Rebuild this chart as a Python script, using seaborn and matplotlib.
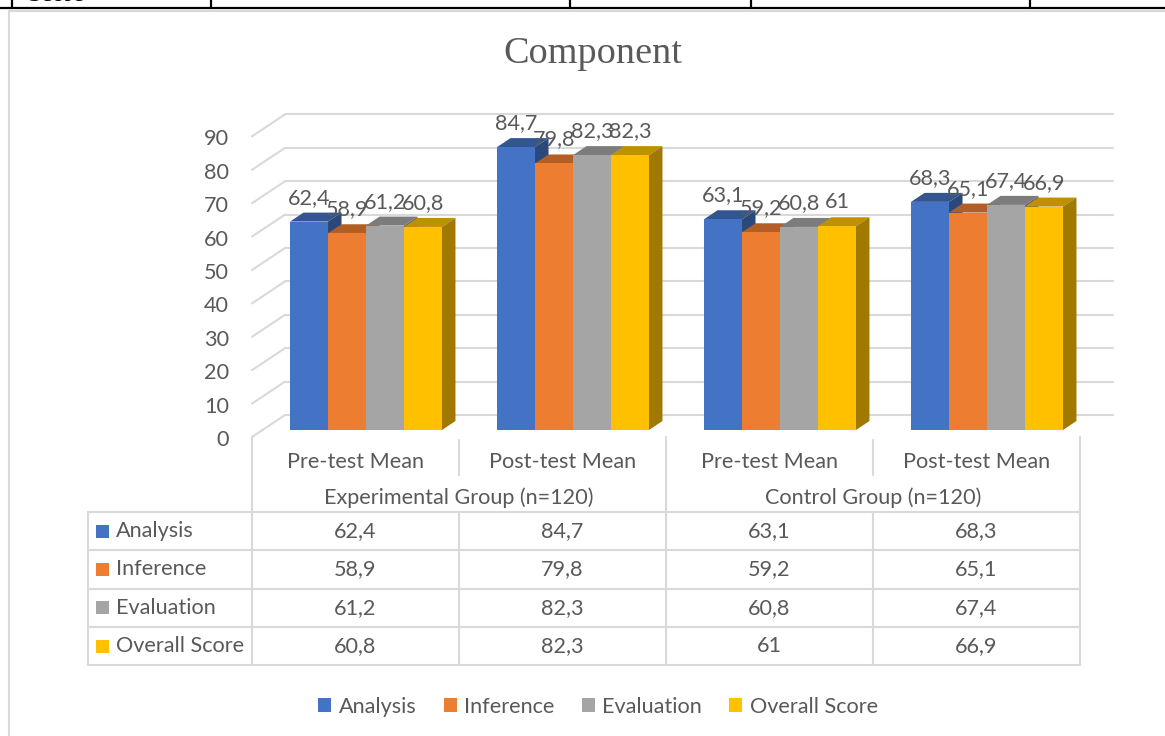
import numpy as np
import pandas as pd
import seaborn as sns
import matplotlib.pyplot as plt
from matplotlib.colors import to_rgb
from matplotlib.patches import Polygon, Rectangle, Patch

sns.set_theme(style="white")
plt.rcParams["font.family"] = ["Lato", "DejaVu Sans"]

# data
groups = ["Experimental Group (n=120)", "Control Group (n=120)"]
phases = ["Pre-test Mean", "Post-test Mean"]
components = ["Analysis", "Inference", "Evaluation", "Overall Score"]
analysis = [62.4, 84.7, 63.1, 68.3]
inference = [58.9, 79.8, 59.2, 65.1]
evaluation = [61.2, 82.3, 60.8, 67.4]
overall = [60.8, 82.3, 61.0, 66.9]
colors = ["#4472C4", "#ED7D31", "#A5A5A5", "#FFC000"]

cols = [f"{g}|{p}" for g in groups for p in phases]
series = [analysis, inference, evaluation, overall]
df = pd.DataFrame(
    [(c, comp, vals[j]) for comp, vals in zip(components, series) for j, c in enumerate(cols)],
    columns=["col", "component", "score"],
)


def fmt(v):
    return f"{v:g}".replace(".", ",")


# layout in pixels
W, H, DPI = 1165, 736, 100
AX_L, AX_R, AX_B, AX_T = 262.5, 1090.5, 430, 96
ux = 4 / (AX_R - AX_L)
uy = 100 / (AX_B - AX_T)
TXT = "#595959"
LINE = "#D9D9D9"
FS = 15.6

fig = plt.figure(figsize=(W / DPI, H / DPI), dpi=DPI)
fig.patch.set_facecolor("white")
deco = fig.add_axes([0, 0, 1, 1], zorder=0)
deco.set_xlim(0, W)
deco.set_ylim(H, 0)
deco.axis("off")

ax = fig.add_axes([AX_L / W, 1 - AX_B / H, (AX_R - AX_L) / W, (AX_B - AX_T) / H], zorder=1)
ax.patch.set_alpha(0)

sns.barplot(data=df, x="col", y="score", hue="component", hue_order=components,
            palette=colors, saturation=1, width=0.734, ax=ax, legend=False,
            edgecolor="none", linewidth=0)
ax.set_xlim(-0.5, 3.5)
ax.set_ylim(0, 100)
ax.axis("off")

# walls: back gridlines and left side lines
ticks = np.arange(0, 100, 10)
bx, by = 22.5 * ux, 15 * uy
fx, fy = -10.5 * ux, -7 * uy
for v in ticks:
    ax.plot([-0.5 + bx, 3.5 + bx], [v + by, v + by], color=LINE, lw=1.5, zorder=0, clip_on=False)
    ax.plot([-0.5 + fx, -0.5 + bx], [v + fy, v + by], color=LINE, lw=1.5, zorder=0, clip_on=False)
    ax.text(-0.5 + (229 - AX_L) * ux, v + fy - 3 * uy, str(v), ha="right", va="center",
            fontsize=FS, color=TXT, clip_on=False)

# 3d faces of bars
dx, dy = 13.5 * ux, 9 * uy
for i, cont in enumerate(ax.containers):
    base = np.array(to_rgb(colors[i]))
    for bar in cont:
        x0, w, h = bar.get_x(), bar.get_width(), bar.get_height()
        bar.set_zorder(3 + 2 * i)
        top = Polygon([(x0, h), (x0 + w, h), (x0 + w + dx, h + dy), (x0 + dx, h + dy)],
                      closed=True, facecolor=base * 0.75, edgecolor="none", zorder=2 + 2 * i)
        side = Polygon([(x0 + w, 0), (x0 + w + dx, dy), (x0 + w + dx, h + dy), (x0 + w, h)],
                       closed=True, facecolor=base * 0.63, edgecolor="none", zorder=2 + 2 * i)
        ax.add_patch(top)
        ax.add_patch(side)
    labels = ax.bar_label(cont, labels=[fmt(v) for v in series[i]], padding=10,
                          fontsize=FS, color=TXT)
    for t in labels:
        t.set_zorder(20)

# title
fig.text(593 / W, 1 - 54 / H, "Component", ha="center", va="center", fontsize=27.5,
         family="Liberation Serif", color=TXT)

# word table remnant and chart border
deco.plot([0, W], [7.5, 7.5], color="black", lw=1.6)
for x in [12, 211, 570, 751, 1030]:
    deco.plot([x, x], [0, 7.5], color="black", lw=1.6)
deco.text(27, 1, "Score", ha="left", va="baseline", fontsize=18, family="Liberation Serif",
          color="black")
deco.plot([9, 9, W], [H, 10.5, 10.5], color=LINE, lw=1.5)

# data table
slot = (AX_R - AX_L) / 4
xs = [252 + slot * k for k in range(5)]
rows_y = [512, 550.3, 588.6, 626.9, 665.2]
lk = dict(color=LINE, lw=1.5)
for y in rows_y:
    deco.plot([88, xs[-1]], [y, y], **lk)
deco.plot([88, 88], [rows_y[0], rows_y[-1]], **lk)
for k, x in enumerate(xs):
    if k % 2 == 0:
        deco.plot([x, x], [437, rows_y[-1]], **lk)
    else:
        deco.plot([x, x], [440, 475], **lk)
        deco.plot([x, x], [rows_y[0], rows_y[-1]], **lk)

for j, c in enumerate(cols):
    deco.text(xs[j] + slot / 2, 462, c.split("|")[1], ha="center", va="center", fontsize=FS, color=TXT)
for g, name in enumerate(groups):
    deco.text(xs[2 * g + 1], 498, name, ha="center", va="center", fontsize=FS, color=TXT)

for r, (comp, vals) in enumerate(zip(components, series)):
    yc = (rows_y[r] + rows_y[r + 1]) / 2
    deco.add_patch(Rectangle((96, yc - 6.5), 13, 13, facecolor=colors[r], edgecolor="none"))
    deco.text(116, yc, comp, ha="left", va="center", fontsize=FS, color=TXT)
    for j, v in enumerate(vals):
        deco.text(xs[j] + slot / 2, yc, fmt(v), ha="center", va="center", fontsize=FS, color=TXT)

# legend
handles = [Patch(facecolor=c, edgecolor="none", label=n) for c, n in zip(colors, components)]
fig.legend(handles=handles, loc="center", bbox_to_anchor=(598 / W, 1 - 707 / H), ncol=4,
           frameon=False, fontsize=FS, handlelength=0.6, handleheight=0.6,
           handletextpad=0.35, columnspacing=1.25, labelcolor=TXT)

fig.savefig("out.png", dpi=DPI, facecolor="white")
